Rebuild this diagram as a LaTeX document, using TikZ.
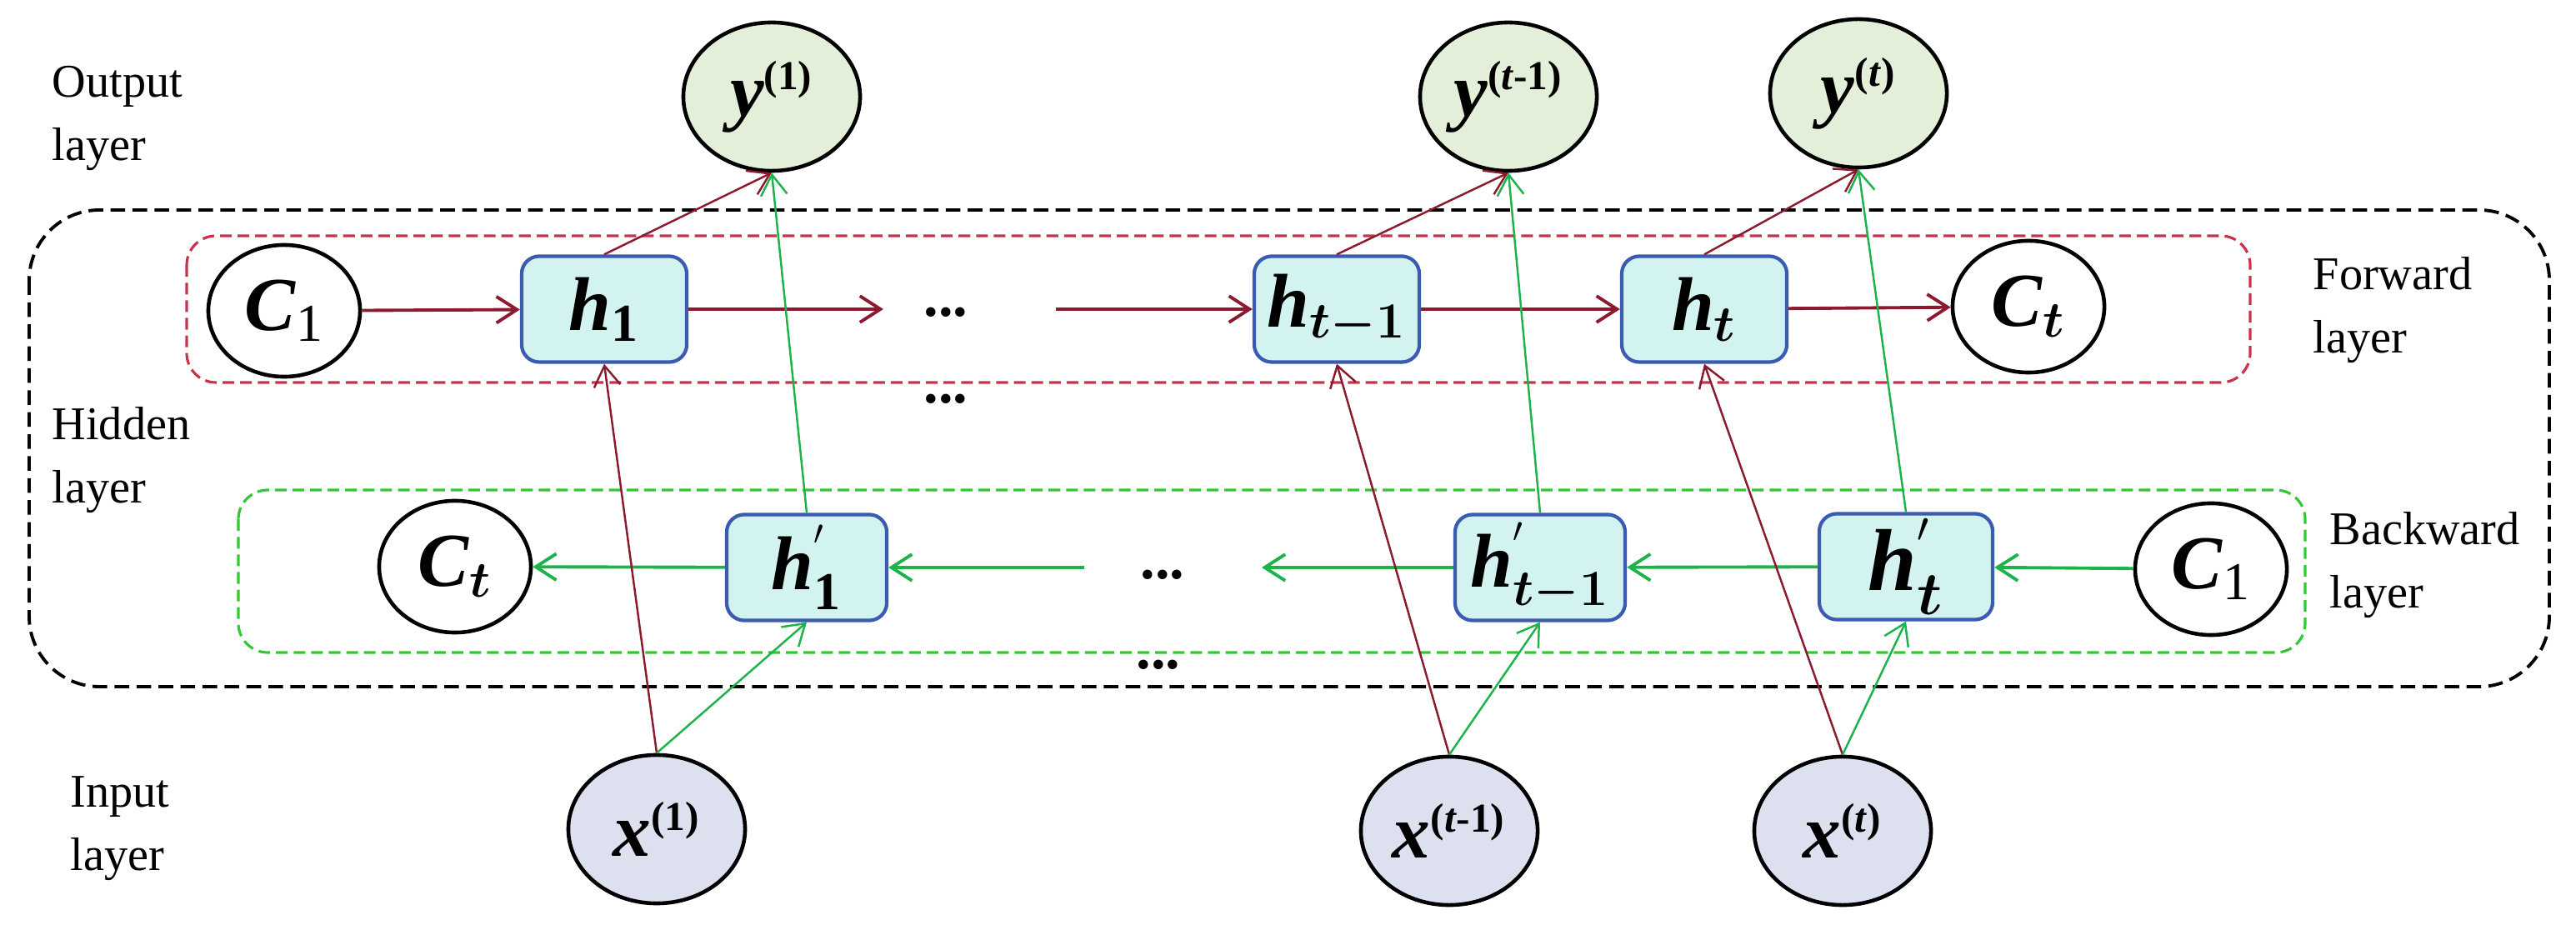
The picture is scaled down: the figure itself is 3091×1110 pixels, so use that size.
\documentclass[tikz,border=0pt]{standalone}
\usepackage{amsmath}
\usepackage{fontspec}
\setmainfont{Liberation Serif}
\usetikzlibrary{shapes.geometric,arrows.meta}
\definecolor{fred}{HTML}{8B1A2E}
\definecolor{bgreen}{HTML}{1DB34A}
\definecolor{boxfill}{HTML}{D3F3F0}
\definecolor{boxdraw}{HTML}{3A5BB0}
\definecolor{yfill}{HTML}{E3EFD9}
\definecolor{xfill}{HTML}{DCE0EF}
\definecolor{dred}{HTML}{C8324B}
\definecolor{dgreen}{HTML}{33C833}
\newcommand\bi[1]{\textbf{\textit{#1}}}
\begin{document}
\begin{tikzpicture}[x=0.01cm,y=-0.01cm,
  lab/.style={font=\fontsize{16}{21.5}\selectfont,align=left,anchor=west,inner sep=0},
  cell/.style={draw=boxdraw,line width=1.2pt,fill=boxfill,rounded corners=6pt,minimum width=1.98cm,minimum height=1.27cm,inner sep=0,font=\fontsize{26}{30}\selectfont},
  ell/.style={ellipse,draw=black,line width=1.3pt,inner sep=0,minimum width=1.82cm,minimum height=1.58cm,font=\fontsize{26}{30}\selectfont},
  ion/.style={ellipse,draw=black,line width=1.3pt,inner sep=0,minimum width=2.12cm,minimum height=1.78cm,font=\fontsize{26}{30}\selectfont},
  tip/.style={-{Straight Barb[length=7pt,width=9pt]}},
  rarr/.style={tip,draw=fred,line width=1.1pt},
  garr/.style={tip,draw=bgreen,line width=1.1pt},
  rdiag/.style={tip,draw=fred,line width=0.7pt},
  gdiag/.style={tip,draw=bgreen,line width=0.7pt},
  dots/.style={font=\fontsize{20}{24}\selectfont\bfseries,inner sep=0}]
\useasboundingbox (0,0) rectangle (3091,1110);
% dashed frames
\draw[black,line width=1.1pt,dash pattern=on 5pt off 2.5pt,rounded corners=24pt] (35,252) rectangle (3059,824);
\draw[dred,line width=0.9pt,dash pattern=on 4pt off 2pt,rounded corners=10pt] (224,283) rectangle (2700,459);
\draw[dgreen,line width=0.9pt,dash pattern=on 4pt off 2pt,rounded corners=10pt] (286,588) rectangle (2766,783);
% labels
\node[lab] (lo) at (62,142) {Output\\layer};
\node[lab] (lh) at (62,552) {Hidden\\layer};
\node[lab] (li) at (84,994) {Input\\layer};
\node[lab] (lf) at (2775,372) {Forward\\layer};
\node[lab] (lb) at (2795,678) {Backward\\layer};
% output nodes
\node[ion,fill=yfill] (y1) at (926,116) {\bi{y}$^{\mbox{\fontsize{14}{16}\selectfont\bfseries(1)}}$};
\node[ion,fill=yfill] (ytm) at (1810,116) {\bi{y}$^{\mbox{\fontsize{14}{16}\selectfont\bfseries(\textit{t}-1)}}$};
\node[ion,fill=yfill] (yt) at (2230,112) {\bi{y}$^{\mbox{\fontsize{14}{16}\selectfont\bfseries(\textit{t})}}$};
% input nodes
\node[ion,fill=xfill] (x1) at (788,995) {\bi{x}$^{\mbox{\fontsize{14}{16}\selectfont\bfseries(1)}}$};
\node[ion,fill=xfill] (xtm) at (1739,997) {\bi{x}$^{\mbox{\fontsize{14}{16}\selectfont\bfseries(\textit{t}-1)}}$};
\node[ion,fill=xfill] (xt) at (2211,997) {\bi{x}$^{\mbox{\fontsize{14}{16}\selectfont\bfseries(\textit{t})}}$};
% forward layer
\node[ell] (c1f) at (341,373) {\bi{C}$_{\mathrm{1}}$};
\node[cell] (h1) at (725,371) {\bi{h}$_{\mathbf{1}}$};
\node[dots] (df) at (1135,375) {...};
\node[dots] (dm) at (1135,479) {...};
\node[cell] (htm) at (1604,371) {\bi{h}$_{\boldsymbol{t-1}}$};
\node[cell] (ht) at (2045,371) {\bi{h}$_{\boldsymbol{t}}$};
\node[ell] (ctf) at (2434,368) {\bi{C}$_{\boldsymbol{t}}$};
% backward layer
\node[ell] (ctb) at (546,680) {\bi{C}$_{\boldsymbol{t}}$};
\node[cell,minimum width=1.92cm] (hb1) at (968,681) {\bi{h}$^{'}_{\mathbf{1}}$};
\node[dots] (db) at (1395,690) {...};
\node[dots] (dbm) at (1390,798) {...};
\node[cell,minimum width=2.04cm] (hbtm) at (1848,681) {\bi{h}$^{'}_{\boldsymbol{t-1}}$};
\node[cell,minimum width=2.08cm,font=\fontsize{30}{34}\selectfont] (hbt) at (2287,680) {\bi{h}$^{'}_{\boldsymbol{t}}$};
\node[ell] (c1b) at (2653,683) {\bi{C}$_{\mathrm{1}}$};
\coordinate (fa) at (1060,371);
\coordinate (fb) at (1267,371);
\coordinate (ba) at (1301,681);
\coordinate (bb) at (1514,681);
% forward arrows
\draw[rarr] (c1f) -- (h1);
\draw[rarr] (h1) -- (fa);
\draw[rarr] (fb) -- (htm);
\draw[rarr] (htm) -- (ht);
\draw[rarr] (ht) -- (ctf);
% backward arrows
\draw[garr] (c1b) -- (hbt);
\draw[garr] (hbt) -- (hbtm);
\draw[garr] (hbtm) -- (bb);
\draw[garr] (ba) -- (hb1);
\draw[garr] (hb1) -- (ctb);
% input to hidden
\draw[rdiag] (x1.north) -- (h1.south);
\draw[gdiag] (x1.north) -- (hb1.south);
\draw[rdiag] (xtm.north) -- (htm.south);
\draw[gdiag] (xtm.north) -- (hbtm.south);
\draw[rdiag] (xt.north) -- (ht.south);
\draw[gdiag] (xt.north) -- (hbt.south);
% hidden to output
\draw[rdiag] (h1.north) -- (y1.south);
\draw[gdiag] (hb1.north) -- (y1.south);
\draw[rdiag] (htm.north) -- (ytm.south);
\draw[gdiag] (hbtm.north) -- (ytm.south);
\draw[rdiag] (ht.north) -- (yt.south);
\draw[gdiag] (hbt.north) -- (yt.south);
\end{tikzpicture}
\end{document}
